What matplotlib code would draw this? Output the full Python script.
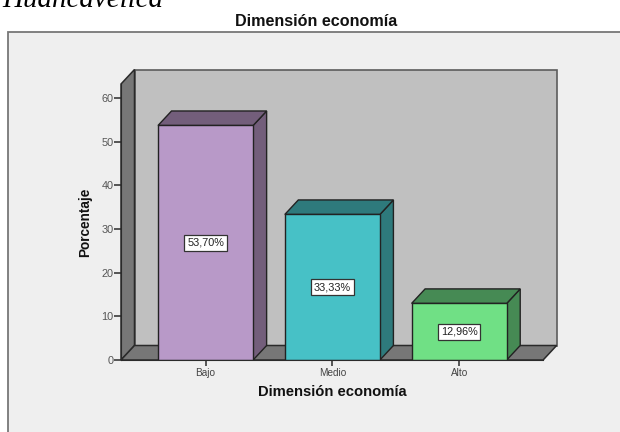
import matplotlib
matplotlib.use("Agg")
import matplotlib.pyplot as plt
from matplotlib.patches import Polygon, Rectangle

plt.rcParams['font.family'] = ['Liberation Sans', 'DejaVu Sans']

W, H = 620, 432

categories = ["Bajo", "Medio", "Alto"]
percent = [53.70, 33.33, 12.96]
y_ticks = [0, 10, 20, 30, 40, 50, 60]
front_colors = ["#b899c8", "#47c1c6", "#70e085"]
dark_colors = ["#735e7b", "#2e7a7c", "#468a54"]

# 3D offset of the box, in data units
dx = 0.1065
dy = 3.32
bar_w = 0.75
x0, x1 = -0.667, 2.662
y0, y1 = 0, 63.2
edge = "#222222"


def fx(px):
    return px / W


def fy(px):
    return 1 - px / H


fig = plt.figure(figsize=(W / 100, H / 100), dpi=100, facecolor="white")

# chart frame runs off the right and bottom of the page
fig.patches.append(Rectangle((fx(8), -0.02), 1.02, fy(32) + 0.02, transform=fig.transFigure,
                             facecolor="#efefef", edgecolor="#777777", lw=1.3, zorder=-5))

ax = fig.add_axes([fx(121), fy(360), fx(543.1) - fx(121), fy(84) - fy(360)])
ax.patch.set_visible(False)
ax.set_xlim(x0, x1)
ax.set_ylim(y0, y1)


def poly(points, color, ec=edge, lw=1.0, z=1):
    ax.add_patch(Polygon(points, closed=True, facecolor=color, edgecolor=ec, lw=lw,
                         zorder=z, clip_on=False, joinstyle="miter"))


# walls and floor
poly([(x0 + dx, dy), (x1 + dx, dy), (x1 + dx, y1 + dy), (x0 + dx, y1 + dy)], "#c0c0c0", ec="#5c5c5c", lw=1.2)
poly([(x0, 0), (x0 + dx, dy), (x0 + dx, y1 + dy), (x0, y1)], "#777777", ec="#2a2a2a", lw=1.1, z=1.1)
poly([(x0, 0), (x1, 0), (x1 + dx, dy), (x0 + dx, dy)], "#777777", ec="#2a2a2a", lw=1.1, z=1.2)

# bars with their side and top faces
xs = list(range(len(categories)))
ax.bar(xs, percent, width=bar_w, color=front_colors, edgecolor=edge, linewidth=1.0, zorder=3)
for x, v, c in zip(xs, percent, dark_colors):
    l, r = x - bar_w / 2, x + bar_w / 2
    poly([(r, 0), (r + dx, dy), (r + dx, v + dy), (r, v)], c, z=2.5)
    poly([(l, v), (r, v), (r + dx, v + dy), (l + dx, v + dy)], c, z=2.5)

    ax.text(x, v / 2, f"{v:.2f}".replace(".", ",") + "%", ha="center", va="center", fontsize=7.8,
            color="#222222", zorder=5,
            bbox=dict(boxstyle="square,pad=0.27", facecolor="white", edgecolor="#333333", lw=0.9))

for side in ["top", "right"]:
    ax.spines[side].set_visible(False)
ax.spines["left"].set_color("#2a2a2a")
ax.spines["bottom"].set_color("#2a2a2a")
ax.spines["bottom"].set_zorder(4)

ax.set_yticks(y_ticks)
ax.set_xticks(xs)
ax.set_xticklabels(categories)
ax.tick_params(axis="y", length=7 * 0.72, width=1.1, color="#2a2a2a", labelsize=7.8,
               labelcolor="#555555", pad=0.3)
ax.tick_params(axis="x", length=6 * 0.72, width=1.1, color="#2a2a2a", labelsize=7.2,
               labelcolor="#444444", pad=1.5)

fig.text(fx(85), fy(222), "Porcentaje", rotation=90, ha="center", va="center",
         fontsize=9.8, fontweight="bold", color="#111111")
fig.text(fx(332), fy(392.5), "Dimensión economía", ha="center", va="center",
         fontsize=10.6, fontweight="bold", color="#111111")
fig.text(fx(316), fy(21.5), "Dimensión economía", ha="center", va="center",
         fontsize=11.6, fontweight="bold", color="#111111")

# caption line cut off by the top of the page
fig.text(fx(2), fy(7.3), "Huancavelica", ha="left", va="baseline", fontsize=20.9,
         fontstyle="italic", family="Liberation Serif", color="black")

fig.savefig("out.png", dpi=100)
